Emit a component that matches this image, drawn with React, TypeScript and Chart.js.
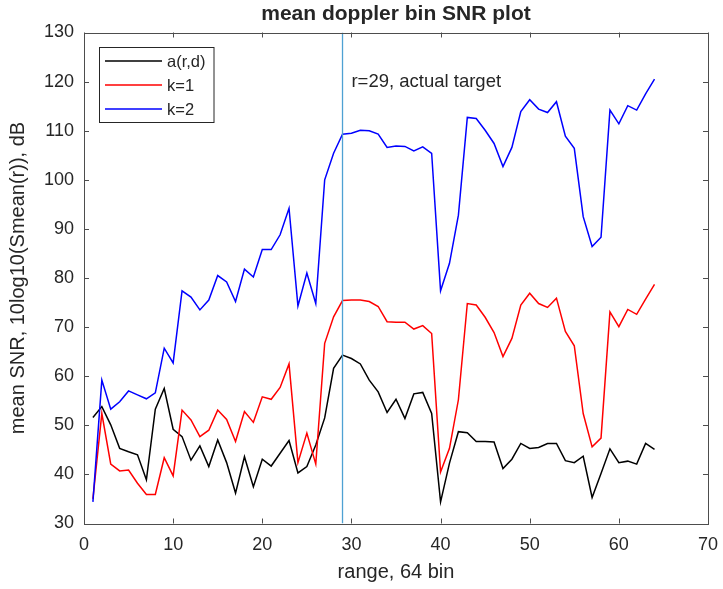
import React, { useEffect, useRef } from "react";
import { Chart, registerables } from "chart.js";

Chart.register(...registerables);

const rangeBins: number[] = Array.from({ length: 64 }, (_, i) => i + 1);

const seriesA: number[] = [
  51.6, 53.8, 50.1, 45.3, 44.6, 44.0, 38.9, 53.3, 57.5, 49.2,
  47.7, 42.9, 45.8, 41.6, 47.0, 42.4, 36.2, 43.6, 37.5, 43.1,
  41.7, 44.3, 46.9, 40.3, 41.6, 46.0, 51.5, 61.6, 64.3, 63.6,
  62.5, 59.2, 56.8, 52.6, 55.3, 51.4, 56.4, 56.7, 52.4, 34.4,
  42.3, 48.7, 48.5, 46.7, 46.7, 46.6, 41.2, 43.1, 46.3, 45.3,
  45.5, 46.3, 46.3, 42.8, 42.4, 43.7, 35.3, 40.2, 45.2, 42.4,
  42.7, 42.1, 46.3, 45.1,
];

const seriesK1: number[] = [
  35.0, 52.4, 42.1, 40.7, 40.9, 38.2, 35.9, 35.9, 43.4, 39.7,
  53.1, 51.1, 47.7, 49.0, 53.1, 51.2, 46.7, 52.8, 50.6, 55.8,
  55.3, 57.7, 62.5, 42.4, 48.4, 42.1, 66.7, 72.1, 75.4, 75.5,
  75.5, 75.2, 74.2, 71.1, 71.0, 71.0, 69.6, 70.3, 68.7, 40.5,
  45.3, 55.2, 74.8, 74.5, 72.0, 68.9, 64.0, 67.7, 74.5, 76.9,
  74.8, 74.0, 75.9, 69.1, 66.2, 52.4, 45.6, 47.4, 73.1, 70.1,
  73.6, 72.6, 75.7, 78.7,
];

const seriesK2: number[] = [
  34.4, 59.2, 53.3, 54.8, 57.0, 56.2, 55.4, 56.6, 65.7, 62.7,
  77.4, 76.1, 73.5, 75.5, 80.5, 79.2, 75.2, 81.8, 80.2, 85.8,
  85.8, 88.8, 94.2, 74.3, 81.0, 74.8, 100.0, 105.4, 109.3, 109.5,
  110.1, 110.0, 109.3, 106.6, 106.9, 106.8, 105.9, 106.7, 105.4, 77.4,
  83.0, 92.8, 112.7, 112.5, 110.1, 107.4, 102.7, 106.6, 113.9, 116.3,
  114.4, 113.7, 115.9, 108.9, 106.4, 92.5, 86.4, 88.3, 114.2, 111.4,
  115.1, 114.2, 117.5, 120.5,
];

const seriesLabels: string[] = ["a(r,d)", "k=1", "k=2"];
const seriesColors: string[] = ["#000000", "#ff0000", "#0000ff"];

const targetRange = 29;
const annotationText = "r=29, actual target";
const annotationX = 30;
const annotationY = 120;

const xMin = 0, xMax = 70, xStep = 10;
const yMin = 30, yMax = 130, yStep = 10;

const titleText = "mean doppler bin SNR plot";
const xTitle = "range, 64 bin";
const yTitle = "mean SNR, 10log10(Smean(r)), dB";

const FONT = "'Liberation Sans', Arial, Helvetica, sans-serif";
const TEXT = "#262626";
const AXIS = "#4d4d4d";

const decorPlugin = {
  id: "decor",
  afterDatasetsDraw(chart: any) {
    const { ctx, chartArea, scales } = chart;
    const { left, right, top, bottom } = chartArea;
    const xs = scales.x, ys = scales.y;
    ctx.save();
    // box
    ctx.strokeStyle = AXIS;
    ctx.lineWidth = 1;
    ctx.strokeRect(Math.round(left) + 0.5, Math.round(top) + 0.5, Math.round(right) - Math.round(left), Math.round(bottom) - Math.round(top));
    // inward ticks
    const tl = 5;
    ctx.beginPath();
    for (let v = xMin; v <= xMax; v += xStep) {
      const px = Math.round(xs.getPixelForValue(v)) + 0.5;
      ctx.moveTo(px, bottom); ctx.lineTo(px, bottom - tl);
      ctx.moveTo(px, top); ctx.lineTo(px, top + tl);
    }
    for (let v = yMin; v <= yMax; v += yStep) {
      const py = Math.round(ys.getPixelForValue(v)) + 0.5;
      ctx.moveTo(left, py); ctx.lineTo(left + tl, py);
      ctx.moveTo(right, py); ctx.lineTo(right - tl, py);
    }
    ctx.stroke();

    // annotation
    ctx.fillStyle = TEXT;
    ctx.font = `18.5px ${FONT}`;
    ctx.textAlign = "left";
    ctx.textBaseline = "middle";
    ctx.fillText(annotationText, xs.getPixelForValue(annotationX), ys.getPixelForValue(annotationY));

    // title
    const cx = (left + right) / 2;
    ctx.font = `bold 21px ${FONT}`;
    ctx.textAlign = "center";
    ctx.textBaseline = "middle";
    ctx.fillText(titleText, cx, 14);

    // x title
    ctx.font = `20px ${FONT}`;
    ctx.fillText(xTitle, cx, 572);

    // y title
    ctx.save();
    ctx.translate(18, (top + bottom) / 2);
    ctx.rotate(-Math.PI / 2);
    ctx.fillText(yTitle, 0, 0);
    ctx.restore();

    // legend
    const lx = 99.5, ly = 47.5, lw = 114.5, lh = 75;
    ctx.fillStyle = "#ffffff";
    ctx.fillRect(lx, ly, lw, lh);
    ctx.strokeStyle = "#262626";
    ctx.lineWidth = 1;
    ctx.strokeRect(lx, ly, lw, lh);
    ctx.font = `16.5px ${FONT}`;
    ctx.textAlign = "left";
    ctx.textBaseline = "middle";
    const rows = [61, 85, 109];
    chart.data.datasets.forEach((ds: any, i: number) => {
      if (!ds.label || i > 2) return;
      const ry = rows[i];
      ctx.strokeStyle = ds.borderColor;
      ctx.lineWidth = 1.3;
      ctx.beginPath();
      ctx.moveTo(105, ry);
      ctx.lineTo(162, ry);
      ctx.stroke();
      ctx.fillStyle = TEXT;
      ctx.fillText(ds.label, 167, ry + 1);
    });
    ctx.restore();
  },
};

export default function App() {
  const canvasRef = useRef<HTMLCanvasElement | null>(null);

  useEffect(() => {
    const canvas = canvasRef.current;
    if (!canvas) return;
    const mk = (vals: number[]) => rangeBins.map((x, i) => ({ x, y: vals[i] }));
    const all = [seriesA, seriesK1, seriesK2];
    const datasets: any[] = all.map((vals, i) => ({
      label: seriesLabels[i],
      data: mk(vals),
      borderColor: seriesColors[i],
      backgroundColor: seriesColors[i],
      borderWidth: 1.5,
      pointRadius: 0,
      tension: 0,
      fill: false,
      order: 3 - i,
    }));
    datasets.push({
      label: "",
      data: [
        { x: targetRange, y: yMin },
        { x: targetRange, y: yMax },
      ],
      borderColor: "#4ea1d3",
      borderWidth: 1.3,
      pointRadius: 0,
      fill: false,
      order: 0,
    });

    const chart = new Chart(canvas, {
      type: "line",
      data: { datasets },
      options: {
        animation: false,
        responsive: false,
        maintainAspectRatio: false,
        layout: { padding: { top: 32.5, right: 15, left: 0, bottom: 0 } },
        plugins: {
          legend: { display: false },
          title: { display: false },
          tooltip: { enabled: false },
        },
        scales: {
          x: {
            type: "linear",
            min: xMin,
            max: xMax,
            grid: { display: false, drawTicks: false, tickLength: 0 },
            border: { display: false },
            ticks: {
              stepSize: xStep,
              padding: 11,
              color: TEXT,
              font: { family: FONT, size: 18 },
              maxRotation: 0,
            },
            afterFit: (s: any) => {
              s.height = 65.5;
              s.paddingLeft = 0; s.paddingRight = 0; s.paddingTop = 0; s.paddingBottom = 0;
            },
          },
          y: {
            type: "linear",
            min: yMin,
            max: yMax,
            grid: { display: false, drawTicks: false, tickLength: 0 },
            border: { display: false },
            ticks: {
              stepSize: yStep,
              padding: 10,
              color: TEXT,
              font: { family: FONT, size: 18 },
            },
            afterFit: (s: any) => {
              s.width = 84;
              s.paddingLeft = 0; s.paddingRight = 0; s.paddingTop = 0; s.paddingBottom = 0;
            },
          },
        },
      } as any,
      plugins: [decorPlugin],
    });
    return () => chart.destroy();
  }, []);

  return (
    <div style={{ position: "absolute", left: 0, top: 0, width: 723, height: 589, background: "#fff" }}>
      <canvas ref={canvasRef} width={723} height={589} style={{ display: "block" }} />
    </div>
  );
}
